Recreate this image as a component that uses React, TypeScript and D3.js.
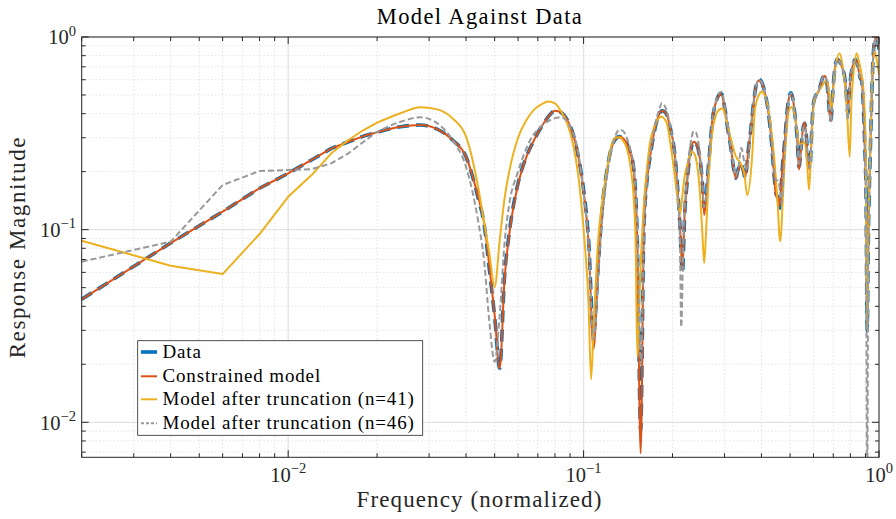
import React from "react";
import * as d3 from "d3";

// ---- Data (frequency grid shared by measured data and constrained model) ----
const freqFine = [
  0.002, 0.004, 0.006, 0.008, 0.01, 0.012, 0.014, 0.016, 0.018, 0.02,
  0.024, 0.028, 0.032, 0.036, 0.04, 0.044, 0.046, 0.048, 0.05, 0.052,
  0.054, 0.056, 0.06, 0.064, 0.068, 0.072, 0.076, 0.08, 0.084, 0.088,
  0.092, 0.096, 0.1, 0.104, 0.108, 0.112, 0.116, 0.12, 0.124, 0.128,
  0.132, 0.136, 0.14, 0.144, 0.148, 0.152, 0.156, 0.16, 0.164, 0.168,
  0.172, 0.176, 0.18, 0.184, 0.188, 0.192, 0.196, 0.2, 0.204, 0.208,
  0.212, 0.216, 0.22, 0.224, 0.228, 0.232, 0.236, 0.24, 0.244, 0.248,
  0.252, 0.256, 0.26, 0.264, 0.268, 0.272, 0.28, 0.292, 0.3, 0.308,
  0.316, 0.324, 0.328, 0.332, 0.34, 0.348, 0.352, 0.356, 0.36, 0.368,
  0.376, 0.384, 0.392, 0.4, 0.408, 0.416, 0.424, 0.432, 0.44, 0.448,
  0.456, 0.46, 0.464, 0.468, 0.472, 0.48, 0.488, 0.496, 0.504, 0.512,
  0.52, 0.528, 0.536, 0.544, 0.552, 0.56, 0.568, 0.576, 0.584, 0.592,
  0.6, 0.612, 0.624, 0.636, 0.648, 0.656, 0.664, 0.672, 0.68, 0.688,
  0.696, 0.704, 0.712, 0.72, 0.736, 0.752, 0.768, 0.776, 0.784, 0.792,
  0.8, 0.816, 0.832, 0.848, 0.864, 0.872, 0.88, 0.888, 0.896, 0.904,
  0.912, 0.92, 0.928, 0.936, 0.944, 0.952, 0.96, 0.968, 0.976, 0.984,
  0.992, 1,
];

const magData = [
  0.0435, 0.0852, 0.124, 0.164, 0.196, 0.23, 0.264, 0.286, 0.306, 0.32,
  0.342, 0.349, 0.332, 0.292, 0.239, 0.145, 0.108, 0.0617, 0.0353, 0.0191,
  0.057, 0.0957, 0.174, 0.239, 0.292, 0.342, 0.386, 0.414, 0.405, 0.371,
  0.316, 0.239, 0.161, 0.088, 0.029, 0.064, 0.137, 0.204, 0.264, 0.294,
  0.304, 0.298, 0.281, 0.249, 0.204, 0.088, 0.0091, 0.1, 0.181, 0.24,
  0.3, 0.355, 0.394, 0.414, 0.409, 0.389, 0.342, 0.298, 0.239, 0.167,
  0.104, 0.06, 0.122, 0.174, 0.23, 0.27, 0.286, 0.281, 0.264, 0.23,
  0.181, 0.131, 0.148, 0.204, 0.27, 0.356, 0.453, 0.51, 0.435, 0.329,
  0.259, 0.196, 0.185, 0.2, 0.221, 0.2, 0.185, 0.204, 0.249, 0.329,
  0.453, 0.563, 0.603, 0.586, 0.535, 0.471, 0.386, 0.292, 0.204, 0.154,
  0.1455, 0.127, 0.148, 0.181, 0.221, 0.292, 0.402, 0.49, 0.514, 0.471,
  0.386, 0.304, 0.212, 0.259, 0.329, 0.356, 0.304, 0.221, 0.212, 0.329,
  0.453, 0.5, 0.52, 0.575, 0.622, 0.627, 0.598, 0.51, 0.402, 0.371,
  0.49, 0.622, 0.716, 0.766, 0.745, 0.688, 0.598, 0.49, 0.4, 0.49,
  0.598, 0.716, 0.766, 0.701, 0.611, 0.598, 0.53, 0.38, 0.26, 0.15,
  0.03, 0.09, 0.17, 0.28, 0.46, 0.7, 0.88, 0.96, 0.99, 0.99,
  0.94, 0.86,
];

const magConstrained = [
  0.0435, 0.0852, 0.124, 0.164, 0.196, 0.23, 0.264, 0.286, 0.306, 0.32,
  0.342, 0.349, 0.332, 0.292, 0.239, 0.147, 0.11, 0.064, 0.036, 0.019,
  0.055, 0.094, 0.172, 0.238, 0.292, 0.342, 0.386, 0.414, 0.405, 0.371,
  0.316, 0.239, 0.158, 0.085, 0.024, 0.06, 0.134, 0.202, 0.262, 0.294,
  0.304, 0.298, 0.281, 0.249, 0.2, 0.085, 0.0069, 0.095, 0.178, 0.24,
  0.3, 0.355, 0.394, 0.414, 0.409, 0.389, 0.342, 0.298, 0.239, 0.167,
  0.106, 0.062, 0.122, 0.174, 0.23, 0.27, 0.286, 0.281, 0.264, 0.23,
  0.178, 0.119, 0.145, 0.204, 0.27, 0.356, 0.453, 0.505, 0.43, 0.329,
  0.259, 0.196, 0.185, 0.198, 0.215, 0.198, 0.188, 0.204, 0.249, 0.329,
  0.453, 0.56, 0.595, 0.58, 0.535, 0.471, 0.386, 0.292, 0.204, 0.15,
  0.146, 0.133, 0.15, 0.181, 0.221, 0.292, 0.402, 0.485, 0.505, 0.471,
  0.386, 0.304, 0.205, 0.255, 0.33, 0.36, 0.3, 0.215, 0.205, 0.325,
  0.453, 0.5, 0.52, 0.575, 0.622, 0.627, 0.598, 0.51, 0.402, 0.365,
  0.49, 0.622, 0.716, 0.766, 0.745, 0.688, 0.598, 0.49, 0.41, 0.49,
  0.598, 0.716, 0.766, 0.701, 0.611, 0.598, 0.53, 0.38, 0.26, 0.15,
  0.03, 0.09, 0.17, 0.28, 0.46, 0.7, 0.88, 0.96, 0.99, 0.99,
  0.94, 0.86,
];

// [frequency, magnitude]
const n41Points: [number, number][] = [
  [0.002, 0.0876], [0.004, 0.065], [0.006, 0.0588], [0.008, 0.0949], [0.01, 0.148],
  [0.012, 0.192], [0.014, 0.249], [0.016, 0.292], [0.018, 0.329], [0.02, 0.359],
  [0.024, 0.402], [0.028, 0.432], [0.032, 0.421], [0.036, 0.378], [0.04, 0.304],
  [0.044, 0.165], [0.046, 0.11], [0.048, 0.075], [0.05, 0.0504], [0.052, 0.088],
  [0.054, 0.145], [0.056, 0.2], [0.06, 0.3], [0.064, 0.37], [0.068, 0.42],
  [0.072, 0.447], [0.076, 0.462], [0.08, 0.452], [0.084, 0.41], [0.088, 0.356],
  [0.092, 0.28], [0.096, 0.19], [0.1, 0.1], [0.104, 0.04], [0.106, 0.0167],
  [0.108, 0.03], [0.112, 0.088], [0.116, 0.145], [0.12, 0.205], [0.124, 0.272],
  [0.128, 0.3], [0.132, 0.302], [0.136, 0.29], [0.14, 0.265], [0.144, 0.215],
  [0.148, 0.14], [0.15, 0.085], [0.152, 0.022], [0.156, 0.065], [0.16, 0.135],
  [0.164, 0.21], [0.168, 0.285], [0.172, 0.33], [0.176, 0.36], [0.18, 0.38],
  [0.184, 0.385], [0.188, 0.375], [0.192, 0.35], [0.196, 0.29], [0.2, 0.235],
  [0.204, 0.185], [0.208, 0.145], [0.212, 0.12], [0.216, 0.15], [0.22, 0.19],
  [0.224, 0.215], [0.228, 0.24], [0.232, 0.254], [0.236, 0.25], [0.24, 0.235],
  [0.244, 0.2], [0.248, 0.15], [0.252, 0.1], [0.256, 0.067], [0.26, 0.1],
  [0.264, 0.165], [0.268, 0.24], [0.272, 0.31], [0.28, 0.39], [0.288, 0.42],
  [0.296, 0.426], [0.304, 0.371], [0.316, 0.292], [0.328, 0.239], [0.34, 0.221],
  [0.35, 0.196], [0.358, 0.151], [0.372, 0.239], [0.38, 0.418], [0.392, 0.5],
  [0.4, 0.52], [0.416, 0.471], [0.432, 0.329], [0.448, 0.181], [0.456, 0.12],
  [0.46, 0.093], [0.464, 0.087], [0.472, 0.14], [0.48, 0.235], [0.496, 0.418],
  [0.508, 0.435], [0.524, 0.356], [0.536, 0.281], [0.548, 0.278], [0.558, 0.286],
  [0.57, 0.23], [0.58, 0.161], [0.59, 0.28], [0.604, 0.471], [0.64, 0.552],
  [0.666, 0.598], [0.68, 0.5], [0.69, 0.418], [0.704, 0.6], [0.716, 0.73],
  [0.736, 0.823], [0.752, 0.72], [0.764, 0.598], [0.78, 0.4], [0.796, 0.239],
  [0.806, 0.45], [0.818, 0.622], [0.84, 0.823], [0.856, 0.74], [0.872, 0.648],
  [0.888, 0.5], [0.9, 0.3], [0.912, 0.03], [0.92, 0.09], [0.936, 0.3],
  [0.952, 0.7], [0.968, 0.836], [0.984, 0.75], [1, 0.635],
];

const n46Points: [number, number][] = [
  [0.002, 0.0682], [0.004, 0.0866], [0.006, 0.1705], [0.008, 0.2016], [0.01, 0.204],
  [0.012, 0.206], [0.014, 0.221], [0.016, 0.249], [0.018, 0.286], [0.02, 0.322],
  [0.024, 0.363], [0.028, 0.383], [0.032, 0.356], [0.036, 0.292], [0.04, 0.212],
  [0.044, 0.11], [0.046, 0.07], [0.048, 0.033], [0.05, 0.0206], [0.052, 0.036],
  [0.054, 0.085], [0.056, 0.135], [0.06, 0.2], [0.066, 0.292], [0.072, 0.345],
  [0.076, 0.366], [0.084, 0.383], [0.09, 0.342], [0.096, 0.25], [0.1, 0.155],
  [0.104, 0.085], [0.108, 0.027], [0.114, 0.088], [0.12, 0.19], [0.126, 0.281],
  [0.132, 0.33], [0.136, 0.325], [0.14, 0.3], [0.144, 0.26], [0.148, 0.21],
  [0.152, 0.1], [0.156, 0.02], [0.16, 0.095], [0.164, 0.18], [0.168, 0.25],
  [0.172, 0.31], [0.176, 0.37], [0.18, 0.415], [0.184, 0.455], [0.188, 0.44],
  [0.192, 0.405], [0.196, 0.35], [0.2, 0.3], [0.204, 0.235], [0.208, 0.16],
  [0.212, 0.085], [0.214, 0.0312], [0.218, 0.1], [0.222, 0.16], [0.228, 0.25],
  [0.232, 0.3], [0.236, 0.325], [0.24, 0.32], [0.244, 0.29], [0.248, 0.24],
  [0.252, 0.18], [0.256, 0.131], [0.26, 0.15], [0.264, 0.204], [0.268, 0.27],
  [0.272, 0.36], [0.28, 0.46], [0.292, 0.52], [0.3, 0.45], [0.308, 0.34],
  [0.316, 0.26], [0.324, 0.205], [0.328, 0.19], [0.334, 0.21], [0.342, 0.265],
  [0.35, 0.225], [0.358, 0.204], [0.368, 0.33], [0.376, 0.45], [0.384, 0.56],
  [0.392, 0.6], [0.4, 0.585], [0.408, 0.535], [0.416, 0.47], [0.424, 0.39],
  [0.432, 0.3], [0.44, 0.215], [0.448, 0.18], [0.456, 0.18], [0.462, 0.16],
  [0.468, 0.137], [0.474, 0.18], [0.48, 0.26], [0.488, 0.38], [0.496, 0.48],
  [0.504, 0.51], [0.512, 0.47], [0.52, 0.39], [0.528, 0.31], [0.536, 0.22],
  [0.544, 0.26], [0.552, 0.325], [0.56, 0.345], [0.568, 0.3], [0.576, 0.225],
  [0.584, 0.21], [0.592, 0.33], [0.6, 0.45], [0.612, 0.5], [0.624, 0.52],
  [0.636, 0.575], [0.648, 0.62], [0.656, 0.625], [0.664, 0.598], [0.672, 0.51],
  [0.68, 0.4], [0.688, 0.365], [0.696, 0.49], [0.704, 0.62], [0.712, 0.71],
  [0.72, 0.76], [0.736, 0.745], [0.752, 0.688], [0.768, 0.598], [0.776, 0.49],
  [0.784, 0.37], [0.792, 0.49], [0.8, 0.598], [0.816, 0.716], [0.832, 0.76],
  [0.848, 0.7], [0.864, 0.611], [0.872, 0.598], [0.88, 0.53], [0.888, 0.38],
  [0.896, 0.26], [0.904, 0.12], [0.912, 0.004], [0.92, 0.08], [0.928, 0.17],
  [0.936, 0.28], [0.944, 0.46], [0.952, 0.7], [0.96, 0.88], [0.968, 0.96],
  [0.976, 0.99], [0.984, 0.99], [0.992, 0.94], [1, 0.86],
];

const seriesLabels = [
  "Data",
  "Constrained model",
  "Model after truncation (n=41)",
  "Model after truncation (n=46)",
];
const seriesColors = ["#0072BD", "#D95319", "#EDB120", "#999999"];
const decadeTicks = [0.01, 0.1, 1];
const decadeExponents = ["\u22122", "\u22121", "0"];
const xDomain = [0.002, 1];
const yDomain = [0.00658, 1];
const coarseLimit = 0.02; // below this the sampled grid is coarse on a log axis

// ---- Layout ----
const W = 896;
const H = 519;
const L = 81.7;
const R = 879;
const T = 37;
const B = 457.3;
const FONT = "'Liberation Serif', 'Times New Roman', serif";

function minorTicks(lo: number, hi: number): number[] {
  const out: number[] = [];
  for (let e = -4; e <= 0; e++) {
    const base = Math.pow(10, e);
    for (let k = 2; k <= 9; k++) {
      const v = k * base;
      if (v >= lo * 0.9999 && v <= hi * 1.0001) out.push(v);
    }
  }
  return out;
}

export default function App() {
  const x = d3.scaleLog().domain(xDomain).range([L, R]);
  const y = d3.scaleLog().domain(yDomain).range([B, T]);
  const straight = d3
    .line<[number, number]>()
    .x((d) => x(d[0]))
    .y((d) => y(d[1]));
  const smooth = d3
    .line<[number, number]>()
    .x((d) => x(d[0]))
    .y((d) => y(d[1]))
    .curve(d3.curveMonotoneX);
  const path = (pts: [number, number][]) => {
    const low = pts.filter((p) => p[0] <= coarseLimit);
    const high = pts.filter((p) => p[0] >= coarseLimit);
    return (straight(low) || "") + (smooth(high) || "").replace(/^M/, "L");
  };

  const dataPts = freqFine.map((f, i) => [f, magData[i]] as [number, number]);
  const conPts = freqFine.map((f, i) => [f, magConstrained[i]] as [number, number]);

  const xMinor = minorTicks(xDomain[0], xDomain[1]);
  const yMinor = minorTicks(yDomain[0], yDomain[1]);
  const majLen = 7;
  const minLen = 4;
  const axisColor = "#262626";

  const legendX = 137.7;
  const legendY = 340.7;
  const legendW = 285;
  const legendH = 94.6;
  const rowY = [352, 376.3, 399.3, 423.3];

  return (
    <svg
      width={W}
      height={H}
      style={{ position: "absolute", left: 0, top: 0, background: "#fff" }}
      fontFamily={FONT}
    >
      <defs>
        <clipPath id="plotClip">
          <rect x={L} y={T} width={R - L} height={B - T} />
        </clipPath>
      </defs>
      <rect x={0} y={0} width={W} height={H} fill="#fff" />

      {/* minor grid */}
      {xMinor.map((v, i) => (
        <line key={"xm" + i} x1={x(v)} x2={x(v)} y1={T} y2={B} stroke="#dcdcdc" strokeWidth={0.8} strokeDasharray="1.5,2" />
      ))}
      {yMinor.map((v, i) => (
        <line key={"ym" + i} x1={L} x2={R} y1={y(v)} y2={y(v)} stroke="#dcdcdc" strokeWidth={0.8} strokeDasharray="1.5,2" />
      ))}
      {/* major grid */}
      {decadeTicks.map((v, i) => (
        <line key={"xg" + i} x1={x(v)} x2={x(v)} y1={T} y2={B} stroke="#e3e3e3" strokeWidth={1.3} />
      ))}
      {decadeTicks.map((v, i) => (
        <line key={"yg" + i} x1={L} x2={R} y1={y(v)} y2={y(v)} stroke="#e3e3e3" strokeWidth={1.3} />
      ))}

      {/* series */}
      <g clipPath="url(#plotClip)" fill="none" strokeLinejoin="round">
        <path d={path(dataPts)} stroke={seriesColors[0]} strokeWidth={3.6} strokeDasharray="12,7" />
        <path d={path(conPts)} stroke={seriesColors[1]} strokeWidth={2} />
        <path d={path(n41Points)} stroke={seriesColors[2]} strokeWidth={2} />
        <path d={path(n46Points)} stroke={seriesColors[3]} strokeWidth={2} strokeDasharray="6,3" />
      </g>

      {/* axes box */}
      <rect x={L} y={T} width={R - L} height={B - T} fill="none" stroke={axisColor} strokeWidth={1} />

      {/* ticks */}
      <g stroke={axisColor} strokeWidth={1}>
        {decadeTicks.map((v, i) => (
          <g key={"xt" + i}>
            <line x1={x(v)} x2={x(v)} y1={B} y2={B - majLen} />
            <line x1={x(v)} x2={x(v)} y1={T} y2={T + majLen} />
          </g>
        ))}
        {xMinor.map((v, i) => (
          <g key={"xmt" + i}>
            <line x1={x(v)} x2={x(v)} y1={B} y2={B - minLen} />
            <line x1={x(v)} x2={x(v)} y1={T} y2={T + minLen} />
          </g>
        ))}
        {decadeTicks.map((v, i) => (
          <g key={"yt" + i}>
            <line x1={L} x2={L + majLen} y1={y(v)} y2={y(v)} />
            <line x1={R} x2={R - majLen} y1={y(v)} y2={y(v)} />
          </g>
        ))}
        {yMinor.map((v, i) => (
          <g key={"ymt" + i}>
            <line x1={L} x2={L + minLen} y1={y(v)} y2={y(v)} />
            <line x1={R} x2={R - minLen} y1={y(v)} y2={y(v)} />
          </g>
        ))}
      </g>

      {/* tick labels */}
      <g fill={axisColor} fontSize={20.5}>
        {decadeTicks.map((v, i) => (
          <text key={"xl" + i} x={x(v)} y={481.5} textAnchor="middle">
            <tspan>10</tspan>
            <tspan dy={-8.5} fontSize={14.5}>{decadeExponents[i]}</tspan>
          </text>
        ))}
        {decadeTicks.map((v, i) => (
          <text key={"yl" + i} x={76} y={y(v) + 7.3} textAnchor="end">
            <tspan>10</tspan>
            <tspan dy={-8.5} fontSize={14.5}>{decadeExponents[i]}</tspan>
          </text>
        ))}
      </g>

      {/* titles */}
      <text x={480} y={24} textAnchor="middle" fontSize={22.5} letterSpacing={1.4} fill="#000">
        Model Against Data
      </text>
      <text x={479.5} y={507} textAnchor="middle" fontSize={23} letterSpacing={1.1} fill={axisColor}>
        Frequency (normalized)
      </text>
      <text
        transform={`translate(25, ${(T + B) / 2}) rotate(-90)`}
        textAnchor="middle"
        fontSize={23}
        letterSpacing={1.6}
        fill={axisColor}
      >
        Response Magnitude
      </text>

      {/* legend */}
      <rect x={legendX} y={legendY} width={legendW} height={legendH} fill="#fff" stroke={axisColor} strokeWidth={0.8} />
      {seriesLabels.map((s, i) => (
        <g key={"lg" + i}>
          <line
            x1={141}
            x2={157}
            y1={rowY[i]}
            y2={rowY[i]}
            stroke={seriesColors[i]}
            strokeWidth={i === 0 ? 3.6 : 2}
            strokeDasharray={i === 3 ? "3,2" : undefined}
          />
          <text x={162.5} y={rowY[i] + 5.8} fontSize={19} letterSpacing={0.85} fill="#000">
            {s}
          </text>
        </g>
      ))}
    </svg>
  );
}
